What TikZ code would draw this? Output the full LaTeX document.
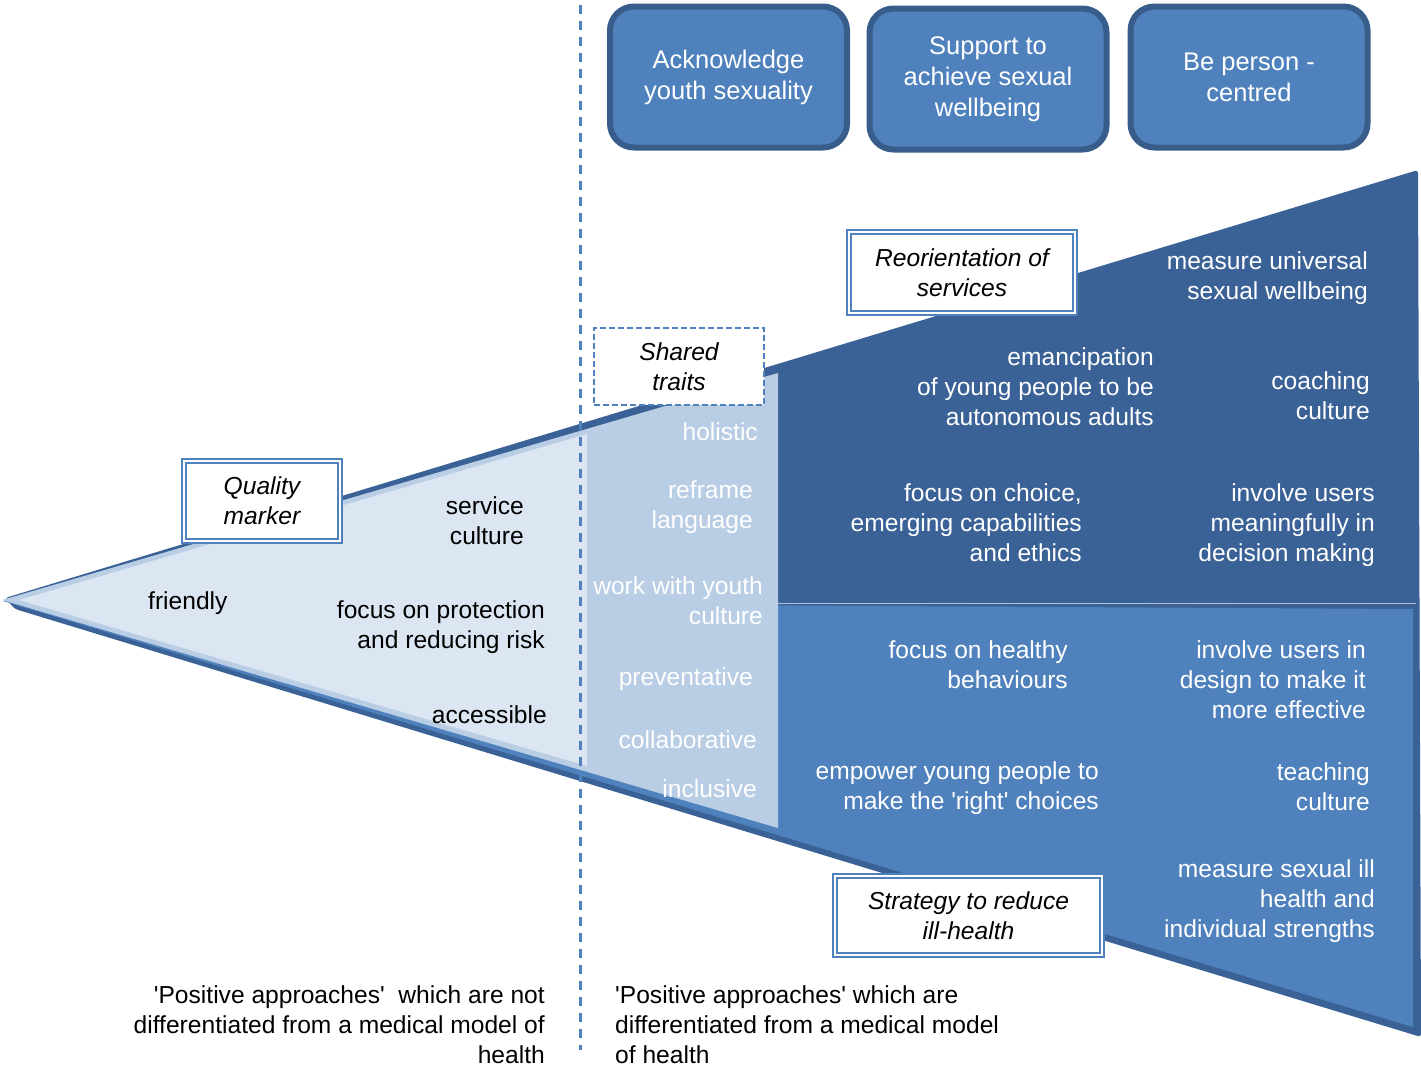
\documentclass[tikz,border=0pt]{standalone}
\usepackage{fontspec}
\setmainfont{Liberation Sans}
\usepackage{tikz}

\definecolor{darkblue}{RGB}{58,98,150}
\definecolor{shadeblue}{RGB}{54,89,138}
\definecolor{midblue}{RGB}{79,129,189}
\definecolor{paleblue}{RGB}{185,205,229}
\definecolor{lightblue}{RGB}{220,230,242}
\definecolor{boxedge}{RGB}{56,93,138}

\tikzset{
  txt/.style={font=\fontsize{24.6}{30}\selectfont, inner sep=0pt, align=right, anchor=east},
  wtxt/.style={txt, text=white},
  goal/.style={draw=boxedge, line width=6pt, fill=midblue, rounded corners=24pt,
    minimum width=237pt, minimum height=141pt, text=white, align=center,
    font=\fontsize{25.5}{31}\selectfont},
  marker/.style={draw=midblue, double=white, double distance=2pt, line width=2pt,
    fill=white, align=center, font=\fontsize{24.6}{30}\selectfont\itshape},
}

\begin{document}
\begin{tikzpicture}[x=1pt, y=-1pt]
        \useasboundingbox (0, 0) rectangle (1421, 1072);

        \fill[darkblue, rounded corners=3pt] (5, 598) -- (1418, 170) -- (1421, 1037) -- (15, 609) -- cycle;
        \fill[midblue] (3, 601) -- (1413, 609) -- (1413, 1027) -- cycle;
        \draw[white!60!darkblue, line width=1pt] (778, 603) -- (1416, 603);

        \fill[paleblue] (2, 600) -- (778, 373) -- (778, 828) -- cycle;
        \fill[lightblue] (19, 600) -- (587, 434) -- (587, 766) -- cycle;

        \coordinate (divtop) at (580, 5);
        \coordinate (divbot) at (580, 1050);
        \draw[midblue, line width=3pt, dash pattern=on 9pt off 7pt] (divtop) -- (divbot);

        \node[goal] (ack) at (728.5, 77) {Acknowledge\\youth sexuality};
        \node[goal] (support) at (988, 79) {Support to\\achieve sexual\\wellbeing};
        \node[goal] (person) at (1249, 77) {Be person -\\centred};

        \node[marker, minimum width=156pt, minimum height=80pt] (quality) at (262, 501) {Quality\\marker};
        \node[marker, minimum width=226pt, minimum height=81pt] (reorient) at (962, 272.5) {Reorientation of\\services};
        \node[marker, minimum width=267pt, minimum height=79pt] (strategy) at (968.5, 915.5) {Strategy to reduce\\ill-health};
        \node[draw=midblue, dashed, dash pattern=on 6pt off 3pt, line width=2.5pt, fill=white,
              minimum width=170pt, minimum height=77pt, align=center,
              font=\fontsize{24.6}{30}\selectfont\itshape] (shared) at (679, 366.5) {Shared\\traits};

        \node[wtxt] (univ) at (1368, 278) {measure universal\\sexual wellbeing};
        \node[wtxt] (emanc) at (1154, 387) {emancipation\\of young people to be\\autonomous adults};
        \node[wtxt] (coach) at (1370, 396) {coaching\\culture};
        \node[wtxt] (choice) at (1082, 523) {focus on choice,\\emerging capabilities\\and ethics};
        \node[wtxt] (meaning) at (1375, 525) {involve users\\meaningfully in\\decision making};

        \node[wtxt] (healthy) at (1068, 665) {focus on healthy\\behaviours};
        \node[wtxt] (design) at (1366, 680) {involve users in\\design to make it\\more effective};
        \node[wtxt] (empower) at (1099, 788) {empower young people to\\make the \textquotesingle right\textquotesingle{} choices};
        \node[wtxt] (teach) at (1370, 787) {teaching\\culture};
        \node[wtxt] (illmeas) at (1375, 901) {measure sexual ill\\health and\\individual strengths};

        \node[wtxt] (holistic) at (758, 432) {holistic};
        \node[wtxt] (reframe) at (753, 507) {reframe\\language};
        \node[wtxt] (youth) at (763, 601) {work with youth\\culture};
        \node[wtxt] (prevent) at (753, 679) {preventative};
        \node[wtxt] (collab) at (757, 740) {collaborative};
        \node[wtxt] (inclus) at (757, 789) {inclusive};

        \node[txt] (service) at (524, 521) {service\\culture};
        \node[txt, anchor=west] (friendly) at (148, 603) {friendly};
        \node[txt] (protect) at (545, 627) {focus on protection\\and reducing risk};
        \node[txt] (access) at (547, 715) {accessible};

        \node[txt] (notdiff) at (545, 1025) {\textquotesingle Positive approaches\textquotesingle\ \ which are not\\differentiated from a medical model of\\health};
        \node[txt, align=left, anchor=west] (isdiff) at (615, 1025) {\textquotesingle Positive approaches\textquotesingle{} which are\\differentiated from a medical model\\of health};
      \end{tikzpicture}
\end{document}
